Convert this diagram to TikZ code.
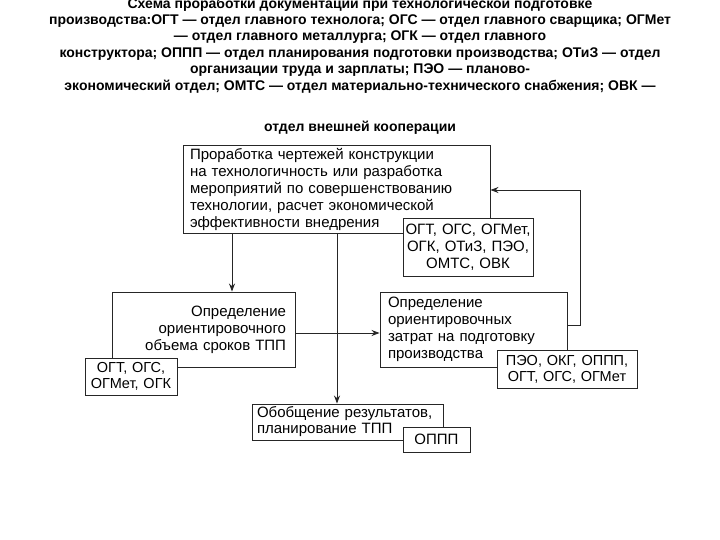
\documentclass[tikz,border=0pt]{standalone}
\usepackage{fontspec}
\setmainfont{Liberation Sans}
\usetikzlibrary{arrows.meta}
\begin{document}
\begin{tikzpicture}[x=1pt,y=-1pt,
  titletext/.style={font=\fontsize{14}{16}\selectfont\bfseries, inner sep=0pt, anchor=center},
  boxbase/.style={draw=black!85, line width=0.9pt, fill=white, rectangle, inner ysep=1pt,
    font=\fontsize{15}{17}\selectfont},
  conn/.style={draw=black!85, line width=0.9pt},
  arr/.style={conn, -{Stealth[length=8pt,width=6pt]}}
]
\useasboundingbox (0,0) rectangle (720,540);
\fill[white] (0,0) rectangle (720,540);

% title
\node[titletext] (t1) at (360,5) {Схема проработки документации при технологической подготовке};
\node[titletext] (t2) at (360,21) {производства:ОГТ — отдел главного технолога; ОГС — отдел главного сварщика; ОГМет};
\node[titletext] (t3) at (360,37) {— отдел главного металлурга; ОГК — отдел главного};
\node[titletext] (t4) at (360,54) {конструктора; ОППП — отдел планирования подготовки производства; ОТиЗ — отдел};
\node[titletext] (t5) at (360,70) {организации труда и зарплаты; ПЭО — планово-};
\node[titletext] (t6) at (360,87) {экономический отдел; ОМТС — отдел материально-технического снабжения; ОВК —};
\node[titletext] (t7) at (360,128) {отдел внешней кооперации};

% main boxes
\node[boxbase, minimum width=307pt, minimum height=88pt, inner xsep=7pt, text width=293pt, align=left] (a) at (336.5,189)
  {Проработка чертежей конструкции\\на технологичность или разработка\\мероприятий по совершенствованию\\технологии, расчет экономической\\эффективности внедрения};
\node[boxbase, minimum width=183pt, minimum height=75pt, inner xsep=9pt, text width=165pt, align=right] (c) at (203.5,329.5)
  {Определение\\ориентировочного\\объема сроков ТПП};
\node[boxbase, minimum width=187pt, minimum height=75pt, inner xsep=8pt, text width=171pt, align=left] (d) at (473.5,329.5)
  {Определение\\ориентировочных\\затрат на подготовку\\производства};
\node[boxbase, minimum width=191pt, minimum height=36pt, inner xsep=5pt, inner ysep=0pt, text width=181pt, align=left, font=\fontsize{15}{16}\selectfont] (e) at (347.5,422)
  {Обобщение результатов,\\планирование ТПП};

% tag boxes
\node[boxbase, minimum width=130pt, minimum height=58pt, inner xsep=1pt, text width=128pt, align=center] (b) at (468,247)
  {ОГТ, ОГС, ОГМет,\\ОГК, ОТиЗ, ПЭО,\\ОМТС, ОВК};
\node[boxbase, minimum width=92pt, minimum height=37pt, inner xsep=1pt, text width=90pt, align=center, font=\fontsize{14.5}{16}\selectfont] (c2) at (131,376.5)
  {ОГТ, ОГС,\\ОГМет, ОГК};
\node[boxbase, minimum width=140pt, minimum height=38pt, inner xsep=1pt, text width=138pt, align=center, font=\fontsize{14.5}{16}\selectfont] (d2) at (567,369)
  {ПЭО, ОКГ, ОППП,\\ОГТ, ОГС, ОГМет};
\node[boxbase, minimum width=67pt, minimum height=25pt, inner xsep=1pt, text width=65pt, align=center] (e2) at (436.5,439.5)
  {ОППП};

% connectors
\coordinate (ac) at (232,0);
\coordinate (ae) at (337,0);
\coordinate (cd) at (0,333);
\coordinate (r1) at (580,325);
\coordinate (r2) at (580,190);
\draw[arr] (a.south -| ac) -- (c.north -| ac);
\draw[arr] (a.south -| ae) -- (e.north -| ae);
\draw[arr] (c.east |- cd) -- (d.west |- cd);
\draw[arr] (d.east |- r1) -- (r1) -- (r2) -- (a.east |- r2);
\end{tikzpicture}
\end{document}
